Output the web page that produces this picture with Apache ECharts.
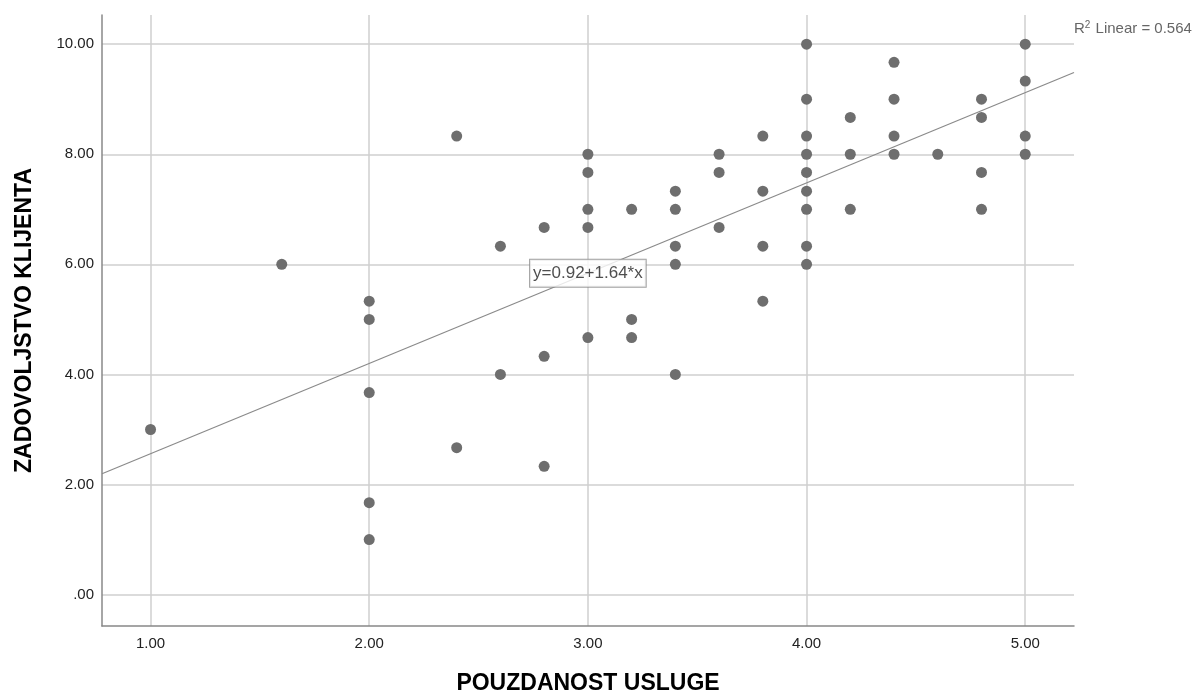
<!DOCTYPE html>
<html>
<head>
<meta charset="utf-8">
<script src="https://cdn.jsdelivr.net/npm/echarts@6/dist/echarts.min.js"></script>
<style>
html,body{margin:0;padding:0;background:#fff;}
#chart{width:1198px;height:700px;}
</style>
</head>
<body>
<div id="chart"></div>
<script>
// Data
var pouzdanost = [
  1.0,
  1.6,
  2.0, 2.0, 2.0, 2.0, 2.0,
  2.4, 2.4,
  2.6, 2.6,
  2.8, 2.8, 2.8,
  3.0, 3.0, 3.0, 3.0, 3.0,
  3.2, 3.2, 3.2,
  3.4, 3.4, 3.4, 3.4, 3.4,
  3.6, 3.6, 3.6,
  3.8, 3.8, 3.8, 3.8,
  4.0, 4.0, 4.0, 4.0, 4.0, 4.0, 4.0, 4.0, 4.0,
  4.2, 4.2, 4.2,
  4.4, 4.4, 4.4, 4.4,
  4.6,
  4.8, 4.8, 4.8, 4.8,
  5.0, 5.0, 5.0, 5.0
];
var zadovoljstvo = [
  3.00,
  6.00,
  5.33, 5.00, 3.67, 1.67, 1.00,
  8.33, 2.67,
  6.33, 4.00,
  6.67, 4.33, 2.33,
  8.00, 7.67, 7.00, 6.67, 4.67,
  7.00, 5.00, 4.67,
  7.33, 7.00, 6.33, 6.00, 4.00,
  8.00, 7.67, 6.67,
  8.33, 7.33, 6.33, 5.33,
  10.00, 9.00, 8.33, 8.00, 7.67, 7.33, 7.00, 6.33, 6.00,
  8.67, 8.00, 7.00,
  9.67, 9.00, 8.33, 8.00,
  8.00,
  9.00, 8.67, 7.67, 7.00,
  10.00, 9.33, 8.33, 8.00
];
var intercept = 0.92;
var slope = 1.64;
var rSquared = '0.564';
var fitLabelX = 3.0;
var xAxisName = 'POUZDANOST USLUGE';
var yAxisName = 'ZADOVOLJSTVO KLIJENTA';
var xRange = [0.778, 5.223];
var yRange = [-0.57, 10.53];

var points = pouzdanost.map(function (x, i) { return [x, zadovoljstvo[i]]; });
function fit(x) { return intercept + slope * x; }
var fitLine = [[xRange[0], fit(xRange[0])], [xRange[1], fit(xRange[1])]];
var fitLabelPoint = [[fitLabelX, fit(fitLabelX)]];

function fmt(v) {
  var s = v.toFixed(2);
  if (s.indexOf('0.') === 0) s = s.substring(1);
  return s;
}

var FONT = '"Liberation Sans", Arial, sans-serif';
var chart = echarts.init(document.getElementById('chart'), null, {renderer: 'canvas'});
chart.setOption({
  animation: false,
  backgroundColor: '#ffffff',
  title: {
    text: 'R{sup|2} Linear = ' + rSquared,
    left: 1074, top: 20, padding: 0,
    textStyle: {
      color: '#666', fontSize: 15, fontWeight: 'normal', fontFamily: FONT,
      rich: { sup: { fontSize: 10, verticalAlign: 'top', color: '#666', padding: [0, 1, 7, 0], fontFamily: FONT } }
    }
  },
  grid: { left: 102, top: 15, right: 124, bottom: 69, containLabel: false },
  xAxis: {
    type: 'value',
    min: xRange[0], max: xRange[1],
    minInterval: 1, maxInterval: 1,
    name: xAxisName, nameLocation: 'middle', nameGap: 46,
    nameTextStyle: { fontSize: 23, fontWeight: 'bold', color: '#000', fontFamily: FONT },
    axisLine: { show: true, onZero: false, lineStyle: { color: '#888', width: 1.5 } },
    axisTick: { show: false },
    axisLabel: {
      margin: 10, fontSize: 15, color: '#222', fontFamily: FONT,
      formatter: function (v) { return Math.abs(v - Math.round(v)) < 1e-6 ? fmt(v) : ''; }
    },
    splitLine: { show: true, showMinLine: false, showMaxLine: false, lineStyle: { color: '#cfcfcf', width: 1.5 } }
  },
  yAxis: {
    type: 'value',
    min: yRange[0], max: yRange[1],
    minInterval: 2, maxInterval: 2,
    name: yAxisName, nameLocation: 'middle', nameGap: 66, nameRotate: 90,
    nameTextStyle: { fontSize: 23, fontWeight: 'bold', color: '#000', fontFamily: FONT },
    axisLine: { show: true, onZero: false, lineStyle: { color: '#888', width: 1.5 } },
    axisTick: { show: false },
    axisLabel: {
      margin: 8, fontSize: 15, color: '#222', fontFamily: FONT,
      formatter: function (v) { return Math.abs(v / 2 - Math.round(v / 2)) < 1e-6 ? fmt(v) : ''; }
    },
    splitLine: { show: true, showMinLine: false, showMaxLine: false, lineStyle: { color: '#cfcfcf', width: 1.5 } }
  },
  series: [
    {
      type: 'line',
      data: fitLine,
      showSymbol: false,
      symbol: 'none',
      lineStyle: { color: '#8a8a8a', width: 1.2 },
      silent: true,
      z: 2
    },
    {
      type: 'scatter',
      data: points,
      symbol: 'circle',
      symbolSize: 11,
      itemStyle: { color: '#6e6e6e', opacity: 1 },
      z: 3
    },
    {
      type: 'scatter',
      data: fitLabelPoint,
      symbolSize: 0,
      z: 4,
      label: {
        show: true, position: 'inside',
        formatter: 'y=' + intercept.toFixed(2) + '+' + slope.toFixed(2) + '*x',
        fontSize: 17, lineHeight: 18, color: '#222', fontFamily: FONT,
        backgroundColor: '#fff', borderColor: '#8a8a8a', borderWidth: 1,
        padding: [5, 3, 4, 3]
      }
    }
  ]
});
</script>
</body>
</html>
